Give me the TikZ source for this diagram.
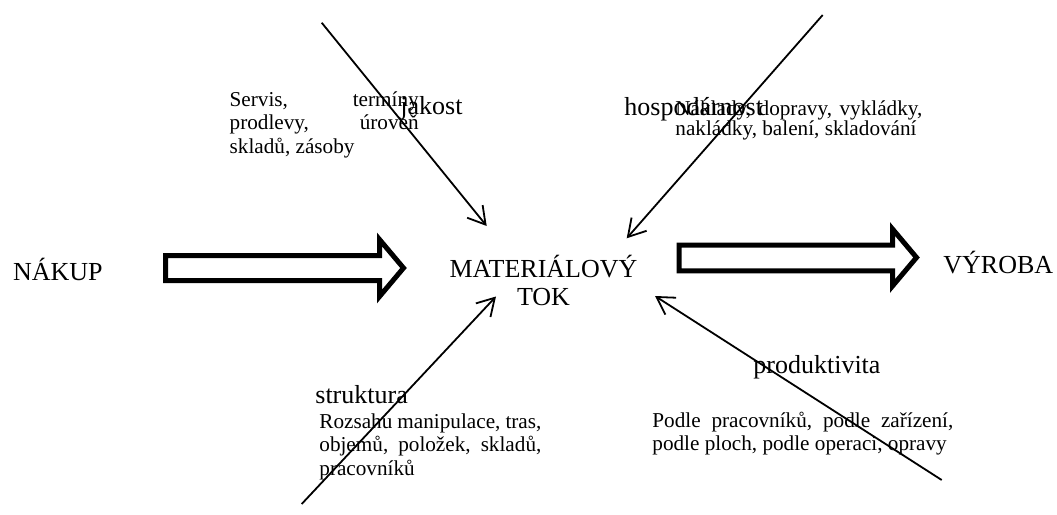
\documentclass[tikz,border=0pt]{standalone}
\usepackage{fontspec}
\setmainfont{Liberation Serif}
\usetikzlibrary{arrows.meta}
\begin{document}
\begin{tikzpicture}[x=0.5pt,y=-0.5pt,
  big/.style={inner sep=0pt, anchor=base west, font=\fontsize{13}{14.2}\selectfont},
  small/.style={inner sep=0pt, anchor=base west, font=\fontsize{10.6}{11.8}\selectfont},
  ray/.style={line width=0.9pt, -{Straight Barb[length=8.5pt,width=10pt]}},
  fat/.style={draw, line width=2.5pt, line join=miter, miter limit=10}]
\useasboundingbox (0,0) rectangle (1057,515);

% main flow: purchase -> material flow -> production
\node[big] (nakup) at (12.7,280) {NÁKUP};
\node[big, anchor=base] (tok) at (543.5,277)
  {\vtop{\hbox to 120pt{\hfil MATERIÁLOVÝ\hfil}\hbox to 120pt{\hfil TOK\hfil}}};
\node[big] (vyroba) at (943,273) {VÝROBA};

% hollow block arrows
\draw[fat] (165.5,255.5) coordinate (inA) -- (379.5,255.5) -- (379.5,239.5)
  -- (403.5,268) coordinate (inB) -- (379.5,296.5) -- (379.5,280.5) -- (165.5,280.5) -- cycle;
\draw[fat] (679.2,245.2) coordinate (outA) -- (892.5,245.2) -- (892.5,229)
  -- (916.5,257.5) coordinate (outB) -- (892.5,286) -- (892.5,270.8) -- (679.2,270.8) -- cycle;

% influencing factors
\coordinate (jakA) at (321.7,22.7);   \coordinate (jakB) at (486.7,226);
\coordinate (hosA) at (822.7,15);     \coordinate (hosB) at (626.7,238.3);
\coordinate (strA) at (301.7,504);    \coordinate (strB) at (496,296.5);
\coordinate (proA) at (941.7,480);    \coordinate (proB) at (655,296);
\draw[ray] (jakA) -- (jakB);
\draw[ray] (hosA) -- (hosB);
\draw[ray] (strA) -- (strB);
\draw[ray] (proA) -- (proB);

% factor titles
\node[big] (jakost) at (400,114) {jakost};
\node[big] (hosp) at (624,115) {hospodárnost};
\node[big] (strukt) at (315,403) {struktura};
\node[big] (produkt) at (753,373) {produktivita};

% factor descriptions
\node[small] (servis) at (229.3,106) {\vtop{%
  \hbox to 94.5pt{Servis,\hfill termíny}%
  \hbox to 94.5pt{prodlevy,\hfill úroveň}%
  \hbox{skladů, zásoby}}};
\node[small, font=\fontsize{10.6}{10}\selectfont] (naklady) at (675,115.5) {\vtop{%
  \hbox to 123.5pt{Náklady,\hfill dopravy,\hfill vykládky,}%
  \hbox{nakládky, balení, skladování}}};
\node[small] (rozsah) at (319,428) {\vtop{%
  \hbox to 111pt{Rozsahu\hfill manipulace,\hfill tras,}%
  \hbox to 111pt{objemů,\hfill položek,\hfill skladů,}%
  \hbox{pracovníků}}};
\node[small, font=\fontsize{10.6}{11.6}\selectfont] (podle) at (652,427.3) {\vtop{%
  \hbox to 150.5pt{Podle\hfill pracovníků,\hfill podle\hfill zařízení,}%
  \hbox{podle ploch, podle operaci, opravy}}};
\end{tikzpicture}
\end{document}
